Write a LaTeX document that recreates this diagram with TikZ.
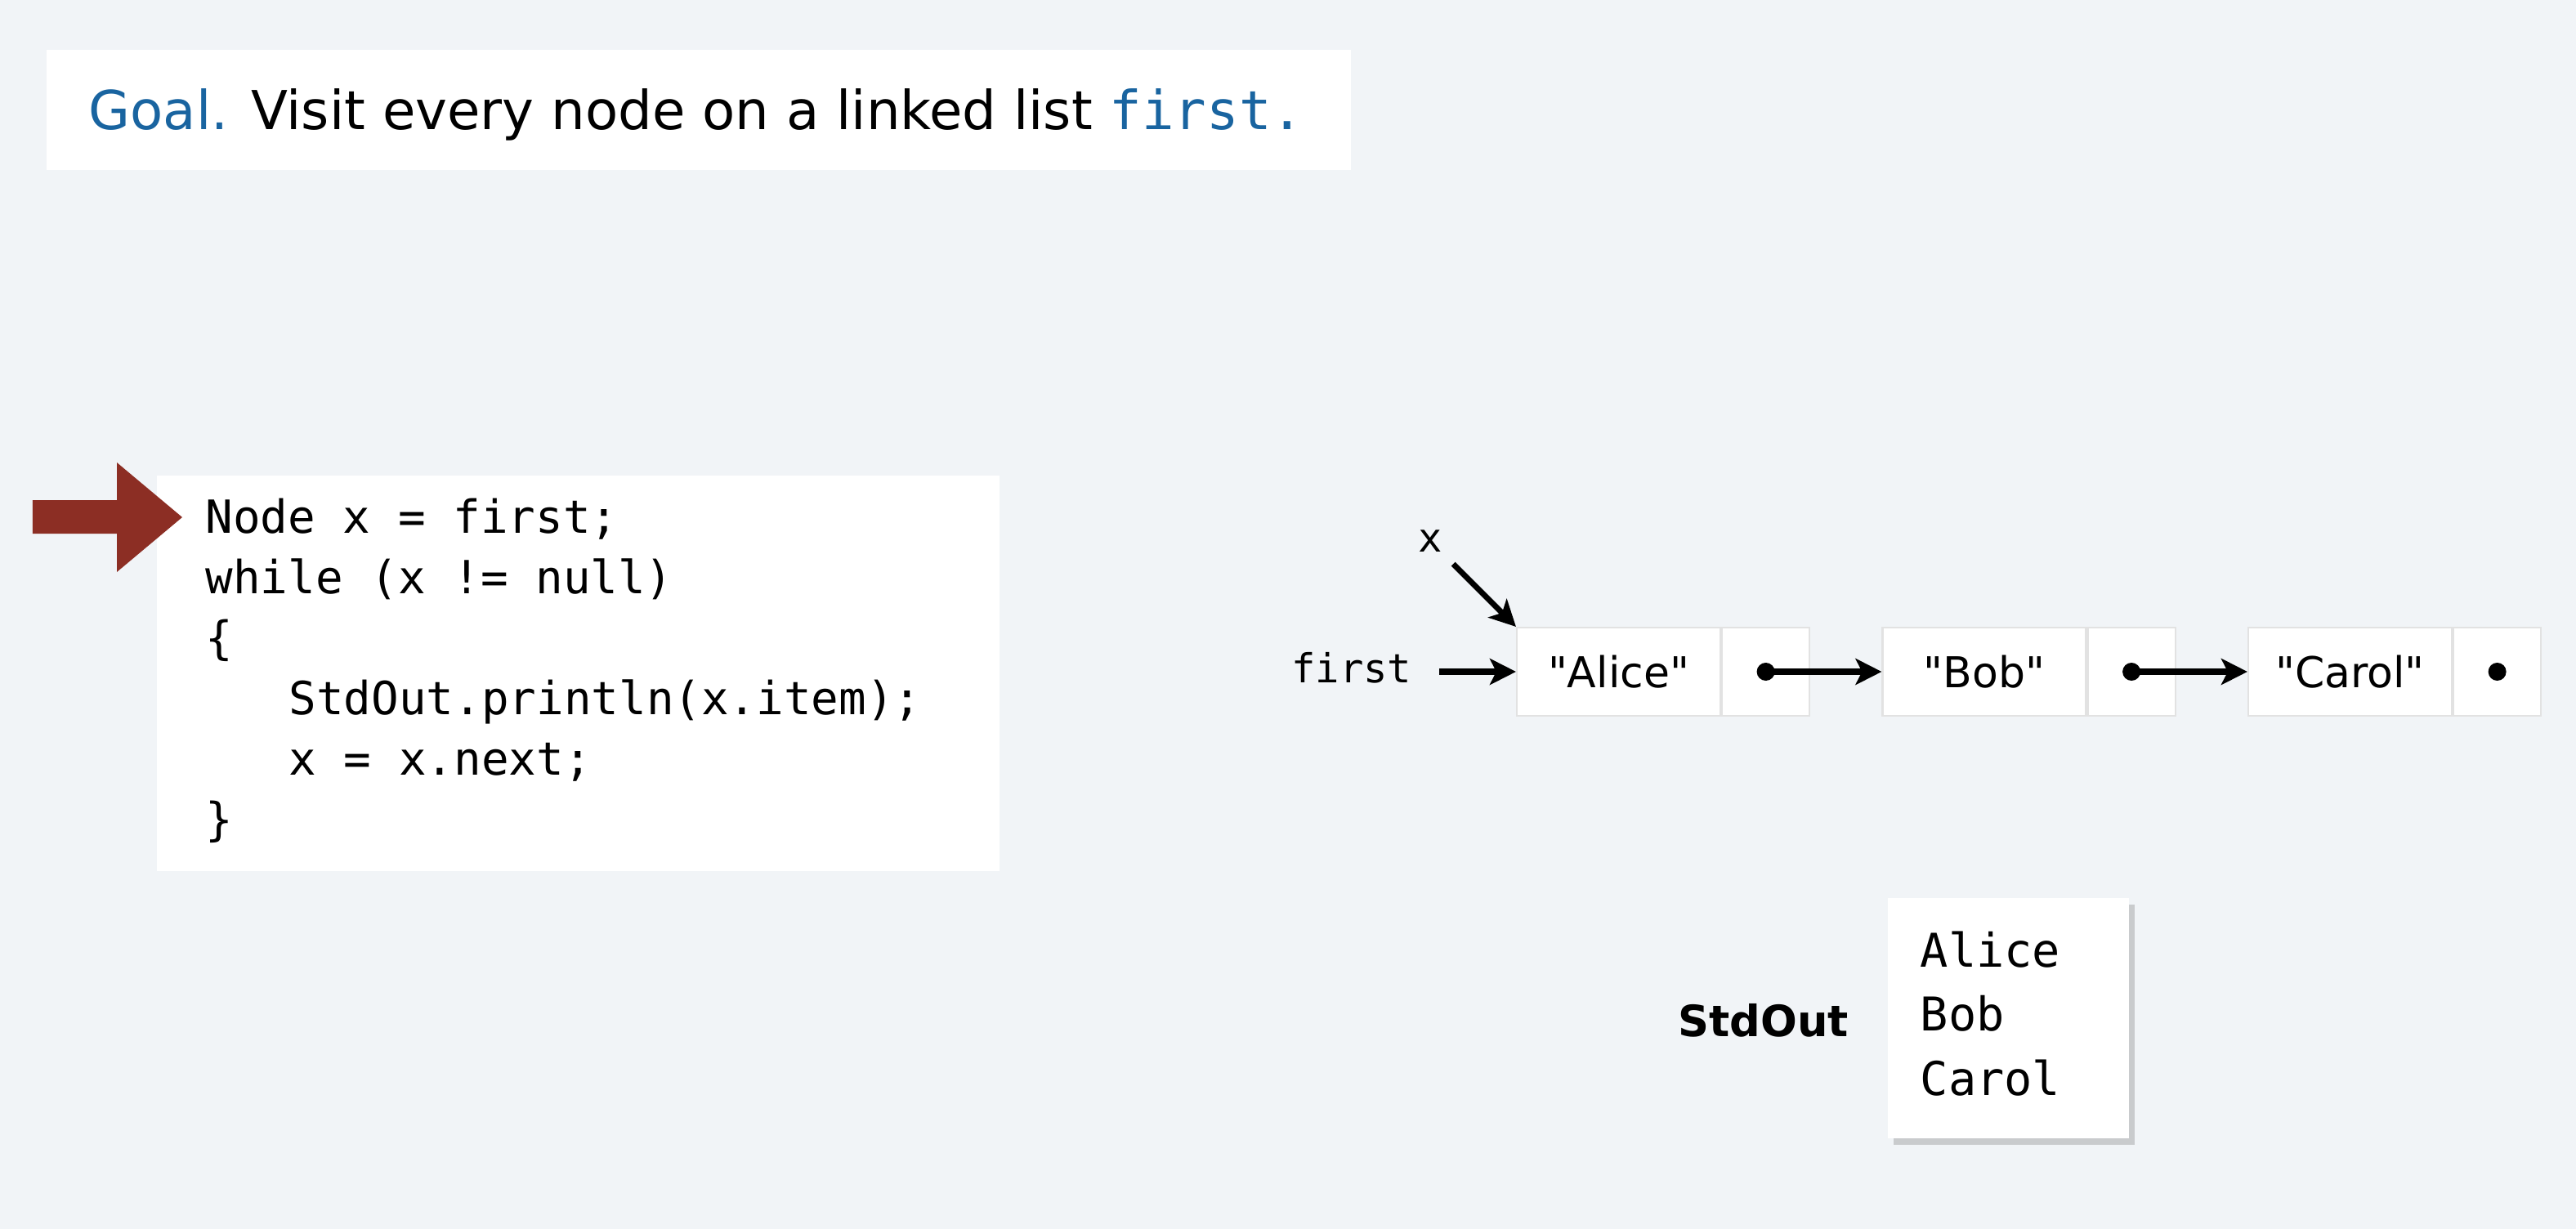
\documentclass[tikz,border=0pt]{standalone}
\usepackage{fontspec}
\setmainfont{DejaVu Sans}
\setmonofont{DejaVu Sans Mono}
\newfontfamily\itemfont{DejaVu Sans}[Ligatures=TeXOff]
\usetikzlibrary{arrows.meta,positioning,shadows}
\definecolor{slidebg}{RGB}{241,244,247}
\definecolor{goalblue}{RGB}{25,100,160}
\definecolor{markred}{RGB}{140,46,36}
\definecolor{boxline}{RGB}{226,226,226}

\begin{document}
\begin{tikzpicture}[
    x=1cm, y=-1cm,
    >={Stealth[length=3.2mm,width=3.2mm,inset=0.8mm]},
    panel/.style={
		rectangle,
		fill=white,
		draw=none,
		inner sep=0pt,
		anchor=north west
	},
    codeline/.style={
		font=\ttfamily\fontsize{15.9}{21}\selectfont,
		anchor=base west,
		inner sep=0pt
	},
    itembox/.style={
		rectangle,
		fill=white,
		draw=boxline,
		line width=0.6pt,
		minimum width=2.49cm,
		minimum height=1.08cm,
		inner sep=0pt,
		font=\itemfont\fontsize{14.8}{18}\selectfont
	},
    nextbox/.style={
		itembox,
		minimum width=1.07cm
	},
    varlabel/.style={
		font=\ttfamily\fontsize{13.9}{17}\selectfont,
		inner sep=0pt
	},
    ptr/.style={->, line width=2pt}
  ]
  % background of the slide
  \fill[slidebg] (0,0) rectangle (31.52,15.04);
  \useasboundingbox (0,0) rectangle (31.52,15.04);

  % the goal line
  \node [panel, minimum width=15.96cm, minimum height=1.47cm] (goalbox) at (0.56,0.60) {};
  \node [anchor=base west, inner sep=0pt, font=\fontsize{18.7}{22}\selectfont] (goal) at (1.08,1.58)
 {\textcolor{goalblue}{Goal.} Visit every node on a linked list \textcolor{goalblue}{\ttfamily first.}};

  % the code and its marker
  \node [panel, minimum width=10.31cm, minimum height=4.84cm] (codebox) at (1.91,5.81) {};
  \foreach \i/\dx/\txt in {0/0/{Node x = first;}, 1/0/{while (x != null)}, 2/0/{\{},
                           3/1/{StdOut.println(x.item);}, 4/1/{x = x.next;}, 5/0/{\}}}
    \node [codeline] (code\i) at (2.51+1.02*\dx, 6.52+0.74*\i) {\txt};
  \fill [markred] (0.40,6.12) -- (1.43,6.12) -- (1.43,5.66) -- (2.23,6.33)
    -- (1.43,7.00) -- (1.43,6.53) -- (0.40,6.53) -- cycle;

  % the linked list
  \foreach \n/\name [count=\i from 0] in {alice/Alice, bob/Bob, carol/Carol} {
    \node [itembox] (\n) at (19.805+4.475*\i, 8.22) {"\name"};
    \node [nextbox, right=0pt of \n] (\n-next) {};
  }
  \draw [ptr] (alice-next.center) -- (bob.west);
  \draw [ptr] (bob-next.center) -- (carol.west);
  \foreach \n in {alice, bob, carol}
    \fill (\n-next.center) circle (0.11);

  \node [varlabel, anchor=base east] (firstvar) at (17.28,8.35) {first};
  \draw [ptr, shorten <=0.33cm] (firstvar.east |- alice.west) -- (alice.west);
  \node [varlabel] (xvar) at (17.50,6.62) {x};
  \draw [ptr, shorten <=0.2cm] (xvar) -- (alice.north west);

  % standard output
  \node [panel, minimum width=2.95cm, minimum height=2.94cm,
    drop shadow={shadow xshift=0.07cm, shadow yshift=-0.08cm, opacity=0.35}] (outbox) at (23.09,10.98) {};
  \foreach \i/\txt in {0/Alice, 1/Bob, 2/Carol}
    \node [codeline, font=\ttfamily\fontsize{16.2}{21}\selectfont] (out\i) at (23.49, 11.83+0.785*\i) {\txt};
  \node [anchor=base west, inner sep=0pt, font=\bfseries\fontsize{15}{18}\selectfont] (stdout) at (20.53,12.68) {StdOut};
\end{tikzpicture}
\end{document}
